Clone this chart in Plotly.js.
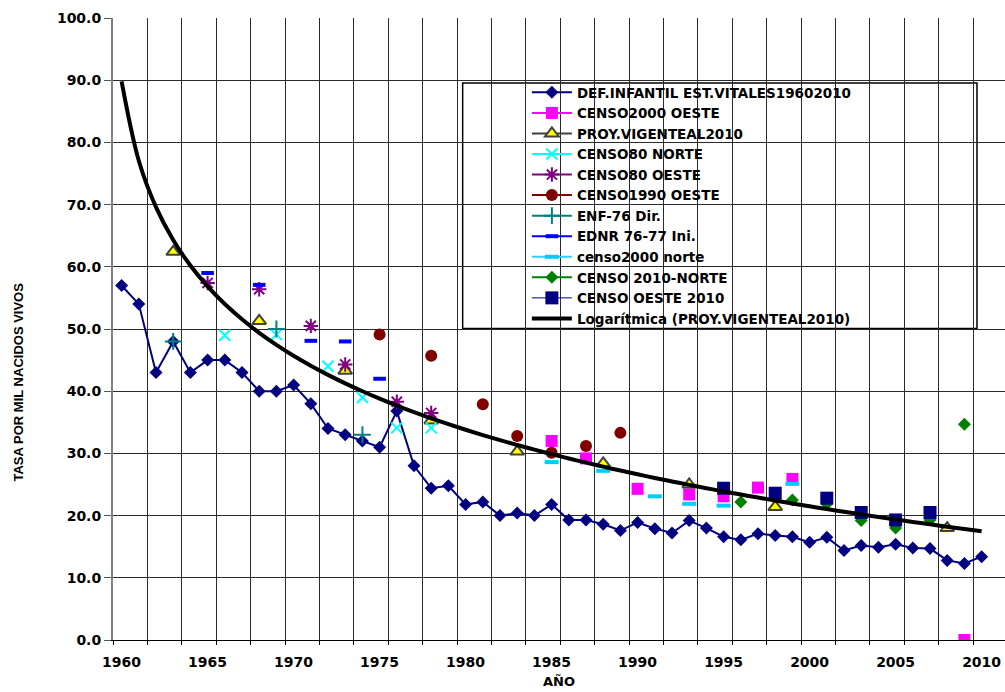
<!DOCTYPE html>
<html>
<head>
<meta charset="utf-8">
<script src="https://cdn.plot.ly/plotly-3.0.1.min.js"></script>
<style>html,body{margin:0;padding:0;background:#fff;}#chart{width:1005px;height:692px;}</style>
</head>
<body>
<div id="chart"></div>
<script>
// ---- data ----
const years = [1960,1961,1962,1963,1964,1965,1966,1967,1968,1969,
  1970,1971,1972,1973,1974,1975,1976,1977,1978,1979,
  1980,1981,1982,1983,1984,1985,1986,1987,1988,1989,
  1990,1991,1992,1993,1994,1995,1996,1997,1998,1999,
  2000,2001,2002,2003,2004,2005,2006,2007,2008,2009,2010];
const defInfantil = [57.0,54.0,43.0,48.0,43.0,45.0,45.0,43.0,40.0,40.0,
  41.0,38.0,34.0,33.0,32.0,31.0,36.8,28.0,24.4,24.8,
  21.8,22.2,20.0,20.4,20.0,21.8,19.3,19.3,18.6,17.6,
  18.9,17.9,17.2,19.2,18.0,16.6,16.1,17.1,16.8,16.6,
  15.7,16.5,14.4,15.2,14.9,15.4,14.8,14.7,12.8,12.3,13.4];

const censo2000OesteYears = [1985,1987,1990,1993,1995,1997,1999,2009];
const censo2000OesteVals  = [32.0,29.2,24.3,23.4,23.1,24.5,25.9,0.0];

const proyYears = [1963,1968,1973,1978,1983,1988,1993,1998,2008];
const proyVals  = [62.4,51.3,43.3,35.3,30.3,28.4,25.0,21.4,18.0];

const censo80NorteYears = [1966,1969,1972,1974,1976,1978];
const censo80NorteVals  = [49.0,49.1,44.0,39.0,34.1,34.1];

const censo80OesteYears = [1965,1968,1971,1973,1976,1978];
const censo80OesteVals  = [57.4,56.4,50.5,44.3,38.3,36.5];

const censo1990OesteYears = [1975,1978,1981,1983,1985,1987,1989];
const censo1990OesteVals  = [49.1,45.7,37.9,32.8,30.1,31.2,33.3];

const enf76Years = [1963,1969,1974];
const enf76Vals  = [48.0,50.0,33.0];

const ednrYears = [1965,1968,1971,1973,1975];
const ednrVals  = [59.0,57.1,48.1,48.0,42.0];

const censo2000NorteYears = [1985,1988,1991,1993,1995,1999];
const censo2000NorteVals  = [28.6,27.2,23.1,21.9,21.6,25.1];

const censo2010NorteYears = [1996,1999,2001,2003,2005,2007,2009];
const censo2010NorteVals  = [22.2,22.5,21.9,19.2,18.0,19.3,34.7];

const censoOeste2010Years = [1995,1998,2001,2003,2005,2007];
const censoOeste2010Vals  = [24.4,23.6,22.8,20.5,19.3,20.5];

const xTickVals = [1960,1965,1970,1975,1980,1985,1990,1995,2000,2005,2010];
const xTickText = ['1960','1965','1970','1975','1980','1985','1990','1995','2000','2005','2010'];

// ---- helpers ----
// isolated points (no connecting segment) so the legend can still show a line sample
function isolated(xs, ys) {
  const X = [], Y = [];
  xs.forEach((x, i) => { if (i) { X.push(null); Y.push(null); } X.push(x); Y.push(ys[i]); });
  return {x: X, y: Y};
}
// Excel-style logarithmic trendline (least squares of y on ln(category index))
function logTrend(xs, ys, allYears) {
  const base = allYears[0] - 1;
  const lx = xs.map(x => Math.log(x - base));
  const n = lx.length;
  const mx = lx.reduce((a, b) => a + b, 0) / n;
  const my = ys.reduce((a, b) => a + b, 0) / n;
  let sxy = 0, sxx = 0;
  for (let i = 0; i < n; i++) { sxy += (lx[i] - mx) * (ys[i] - my); sxx += (lx[i] - mx) ** 2; }
  const a = sxy / sxx, b = my - a * mx;
  return allYears.map(x => a * Math.log(x - base) + b);
}

function pts(name, xs, ys, marker, lineColor, lineWidth) {
  const d = isolated(xs, ys);
  return {type: 'scatter', mode: 'lines+markers', name: name, x: d.x, y: d.y,
    connectgaps: false, marker: marker, line: {color: lineColor, width: lineWidth || 2}};
}

const traces = [
  {type: 'scatter', mode: 'lines+markers', name: 'DEF.INFANTIL EST.VITALES19602010',
   x: years, y: defInfantil, line: {color: '#000080', width: 2},
   marker: {symbol: 'diamond', size: 10, color: '#000080'}},
  pts('CENSO2000 OESTE', censo2000OesteYears, censo2000OesteVals,
      {symbol: 'square', size: 12, color: '#FF00FF'}, '#FF00FF'),
  pts('PROY.VIGENTEAL2010', proyYears, proyVals,
      {symbol: 'triangle-up', size: 12, color: '#FFFF00', line: {color: '#404040', width: 2}}, '#404040'),
  pts('CENSO80 NORTE', censo80NorteYears, censo80NorteVals,
      {symbol: 'x-thin-open', size: 11, color: '#00FFFF', line: {color: '#00FFFF', width: 2}}, '#00FFFF'),
  pts('CENSO80 OESTE', censo80OesteYears, censo80OesteVals,
      {symbol: 'asterisk-open', size: 12, color: '#800080', line: {color: '#800080', width: 2}}, '#800080'),
  pts('CENSO1990 OESTE', censo1990OesteYears, censo1990OesteVals,
      {symbol: 'circle', size: 12, color: '#800000'}, '#800000'),
  pts('ENF-76 Dir.', enf76Years, enf76Vals,
      {symbol: 'cross-thin-open', size: 12, color: '#008080', line: {color: '#008080', width: 2}}, '#008080'),
  pts('EDNR 76-77 Ini.', ednrYears, ednrVals,
      {symbol: 'line-ew-open', size: 9, color: '#0000FF', line: {color: '#0000FF', width: 4}}, '#0000FF'),
  pts('censo2000 norte', censo2000NorteYears, censo2000NorteVals,
      {symbol: 'line-ew-open', size: 10, color: '#00CCFF', line: {color: '#00CCFF', width: 4}}, '#33CCFF'),
  pts('CENSO 2010-NORTE', censo2010NorteYears, censo2010NorteVals,
      {symbol: 'diamond', size: 10, color: '#008000'}, '#008000'),
  pts('CENSO OESTE 2010', censoOeste2010Years, censoOeste2010Vals,
      {symbol: 'square', size: 13, color: '#000080'}, '#000080', 1),
  {type: 'scatter', mode: 'lines', name: 'Logarítmica (PROY.VIGENTEAL2010)',
   x: years, y: logTrend(proyYears, proyVals, years), line: {color: '#000000', width: 4, shape: 'spline'}}
];

const tickFont = {family: 'DejaVu Sans, Verdana, sans-serif', size: 14, color: '#000', weight: 'bold'};

const layout = {
  width: 1005, height: 692,
  margin: {l: 113, r: 0, t: 18, b: 52, pad: 0},
  paper_bgcolor: '#ffffff', plot_bgcolor: '#ffffff',
  showlegend: true,
  font: {family: 'DejaVu Sans, sans-serif', color: '#000'},
  xaxis: {
    range: [1959.5, 2011.36], tickmode: 'array', tickvals: xTickVals, ticktext: xTickText,
    ticks: '', showgrid: false, zeroline: false, tickfont: tickFont, ticklabelstandoff: 9,
    ticklabeloverflow: 'allow',
    showline: true, linecolor: '#000', linewidth: 1, mirror: false,
    minor: {tickmode: 'linear', tick0: 1959.5, dtick: 2, showgrid: true, gridcolor: '#2a2a2a', gridwidth: 1,
            ticks: 'outside', ticklen: 4, tickcolor: '#000'},
    title: {text: 'AÑO', font: {family: 'DejaVu Sans, sans-serif', size: 13, weight: 'bold', color: '#000'}, standoff: 8}
  },
  yaxis: {
    range: [0, 100], tickmode: 'linear', tick0: 0, dtick: 10, tickformat: '.1f',
    ticks: 'outside', ticklen: 7, tickcolor: '#555', showgrid: true, gridcolor: '#2a2a2a', gridwidth: 1,
    zeroline: false, tickfont: tickFont, showline: true, linecolor: '#808080', linewidth: 2, mirror: false
  },
  legend: {
    x: 0.464, y: 0.905, xanchor: 'left', yanchor: 'top',
    bgcolor: 'rgba(0,0,0,0)', borderwidth: 0,
    font: {family: 'DejaVu Sans, sans-serif', size: 13.5, weight: 'bold', color: '#000'},
    itemwidth: 40, tracegroupgap: 0
  },
  shapes: [{type: 'rect', xref: 'paper', yref: 'paper', x0: 0.392, x1: 0.9686, y0: 0.5009, y1: 0.8956,
            fillcolor: '#ffffff', line: {color: '#000', width: 1.5}, layer: 'between'}],
  annotations: [{text: 'TASA POR MIL NACIDOS VIVOS', xref: 'paper', yref: 'paper', x: -0.1065, y: 0.414,
                 textangle: -90, showarrow: false, xanchor: 'center', yanchor: 'middle',
                 font: {family: 'Liberation Sans Narrow, Arial Narrow, sans-serif', size: 13, weight: 'bold', color: '#000'}}]
};

Plotly.newPlot('chart', traces, layout, {displayModeBar: false, staticPlot: true});
</script>
</body>
</html>
